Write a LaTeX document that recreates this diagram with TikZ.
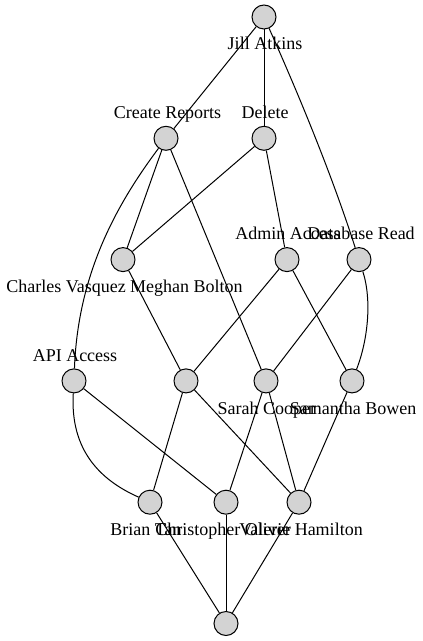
\documentclass[tikz,border=0pt]{standalone}
\usepackage{fontspec}
\setmainfont{Liberation Serif}
\definecolor{gvgray}{HTML}{D3D3D3}
\begin{document}
\begin{tikzpicture}[x=0.75pt,y=-0.75pt,
  vert/.style={circle,draw=black,fill=gvgray,line width=0.75pt,minimum size=18pt,inner sep=0pt},
  lbl/.style={font=\fontsize{13.5pt}{16pt}\selectfont,anchor=base,inner sep=0pt},
  link/.style={line width=0.75pt,black}]
\useasboundingbox (0,0) rectangle (423,641);
% vertices
\node[vert] (jill) at (264,17) {};
\node[vert] (create) at (166,138.3) {};
\node[vert] (delete) at (264,138.3) {};
\node[vert] (charles) at (123,259.6) {};
\node[vert] (admin) at (287,259.6) {};
\node[vert] (dbread) at (359,259.6) {};
\node[vert] (api) at (74,380.9) {};
\node[vert] (meghan) at (186,380.9) {};
\node[vert] (sarah) at (266,380.9) {};
\node[vert] (samantha) at (352,380.9) {};
\node[vert] (brian) at (150,502.2) {};
\node[vert] (christopher) at (226,502.2) {};
\node[vert] (valerie) at (299,502.2) {};
\node[vert] (bottom) at (226,623.5) {};
% edges
\draw[link] (jill) -- (create);
\draw[link] (jill) -- (delete);
\draw[link] (jill) .. controls (298,93) and (332,175) .. (dbread);
\draw[link] (create) -- (charles);
\draw[link] (create) .. controls (120,200) and (78,270) .. (api);
\draw[link] (create) -- (sarah);
\draw[link] (delete) -- (charles);
\draw[link] (delete) -- (admin);
\draw[link] (charles) -- (meghan);
\draw[link] (admin) -- (meghan);
\draw[link] (admin) -- (samantha);
\draw[link] (dbread) -- (sarah);
\draw[link] (dbread) .. controls (372,300) and (368,340) .. (samantha);
\draw[link] (api) .. controls (70,450) and (100,480) .. (brian);
\draw[link] (api) -- (christopher);
\draw[link] (meghan) -- (brian);
\draw[link] (meghan) -- (valerie);
\draw[link] (sarah) -- (christopher);
\draw[link] (sarah) -- (valerie);
\draw[link] (samantha) -- (valerie);
\draw[link] (brian) -- (bottom);
\draw[link] (christopher) -- (bottom);
\draw[link] (valerie) -- (bottom);
% labels
\node[lbl] (ljill) at (265,49.5) {Jill Atkins};
\node[lbl] (lcreate) at (167.5,118.3) {Create Reports};
\node[lbl] (ldelete) at (265,118.3) {Delete};
\node[lbl] (ladmin) at (288,239.3) {Admin Access};
\node[lbl] (ldb) at (361,239.3) {Database Read};
\node[lbl,anchor=base west] (lcharles) at (6,292.7) {Charles Vasquez};
\node[lbl,anchor=base east] (lmeghan) at (243,292.7) {Meghan Bolton};
\node[lbl] (lapi) at (75,361.7) {API Access};
\node[lbl,anchor=base west] (lsarah) at (217.3,414) {Sarah Cooper};
\node[lbl,anchor=base east] (lsam) at (416.7,414) {Samantha Bowen};
\node[lbl,anchor=base west] (lbrian) at (110,535) {Brian Tan};
\node[lbl,anchor=base west] (lchris) at (155,535) {Christopher Oliver};
\node[lbl,anchor=base east] (lval) at (363,535) {Valerie Hamilton};
\end{tikzpicture}
\end{document}
